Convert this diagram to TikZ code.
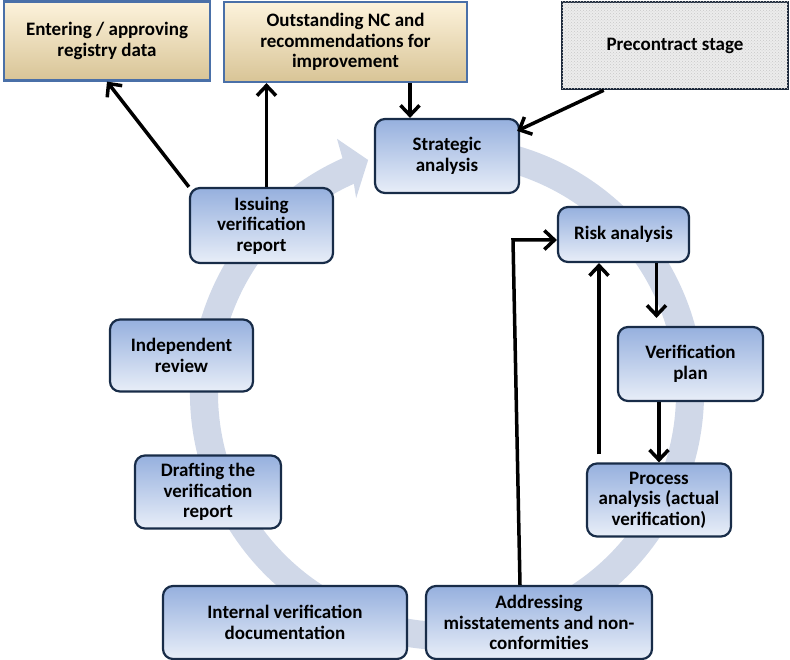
\documentclass[tikz,border=0pt]{standalone}
\usepackage{fontspec}
\setmainfont{Carlito}
\usetikzlibrary{arrows.meta,calc,patterns}

\definecolor{ringblue}{RGB}{208,216,232}
\definecolor{boxtop}{RGB}{150,176,222}
\definecolor{boxbot}{RGB}{232,238,248}
\definecolor{boxline}{RGB}{24,44,72}
\definecolor{tantop}{RGB}{253,243,220}
\definecolor{tanbot}{RGB}{216,196,150}
\definecolor{tanline}{RGB}{74,112,168}
\definecolor{stonefill}{RGB}{236,236,236}
\definecolor{stonedot}{RGB}{200,200,200}
\definecolor{stoneline}{RGB}{28,40,58}

\tikzset{
  boxtext/.style={align=center, inner sep=2pt,
    font=\bfseries\fontsize{19}{20.5}\selectfont},
  stepbox/.style={boxtext, draw=boxline, line width=2.2pt, rounded corners=10pt,
    top color=boxtop, bottom color=boxbot},
  outbox/.style={boxtext, draw=tanline, line width=2.2pt,
    top color=tantop, bottom color=tanbot},
  stonebox/.style={boxtext, draw=stoneline, line width=2.6pt, fill=stonefill,
    postaction={pattern=crosshatch dots, pattern color=stonedot}},
  flow/.style={line width=3.5pt, -{Straight Barb[length=10pt,width=19pt]}},
}

\begin{document}
\begin{tikzpicture}[x=1pt, y=1pt]
    \useasboundingbox (0,0) rectangle (790,-660);
    % circular flow behind the steps
    \begin{scope}[shift={(447,-393)}]
      \fill[ringblue] (114:257pt) arc[start angle=114, end angle=455, radius=257pt]
        -- (455:229pt) arc[start angle=455, end angle=114, radius=229pt]
        -- (115:215pt) -- (108.7:246pt) -- (113.4:277pt) -- cycle;
    \end{scope}
    % outputs and input
    \node[outbox, minimum width=206, minimum height=79] (entry) at (107,-41)
      {Entering / approving\\registry data};
    \node[outbox, minimum width=243, minimum height=80] (outnc) at (345.5,-42)
      {Outstanding NC and\\recommendations for\\improvement};
    \node[stonebox, minimum width=226, minimum height=87] (precon) at (675,-45.5)
      {Precontract stage};
    % steps of the cycle
    \node[stepbox, minimum width=144, minimum height=74] (strat) at (447,-156)
      {Strategic\\analysis};
    \node[stepbox, minimum width=131, minimum height=55] (risk) at (623.5,-234.5)
      {Risk analysis};
    \node[stepbox, minimum width=145, minimum height=74] (plan) at (690.5,-364)
      {Verification\\plan};
    \node[stepbox, minimum width=144, minimum height=73] (proc) at (659,-500)
      {Process\\analysis (actual\\verification)};
    \node[stepbox, minimum width=226, minimum height=73] (addr) at (539,-622.5)
      {Addressing\\misstatements and non-\\conformities};
    \node[stepbox, minimum width=244, minimum height=73] (intdoc) at (285,-622.5)
      {Internal verification\\documentation};
    \node[stepbox, minimum width=146, minimum height=73] (draft) at (208,-492)
      {Drafting the\\verification\\report};
    \node[stepbox, minimum width=143, minimum height=72] (indep) at (181.5,-355.5)
      {Independent\\review};
    \node[stepbox, minimum width=143, minimum height=75] (issue) at (261.5,-225.5)
      {Issuing\\verification\\report};
    % connectors
    \draw[flow] (issue.north west) -- (entry.south);
    \draw[flow] ([xshift=5pt]issue.north) -- ([xshift=5pt]issue.north |- outnc.south);
    \draw[flow] ([xshift=-37pt]strat.north |- outnc.south) -- ([xshift=-37pt]strat.north);
    \draw[flow] ([xshift=43pt]precon.south west) -- ([xshift=-3pt,yshift=-13pt]strat.north east);
    \draw[flow, shorten >=8pt] ([xshift=33pt]risk.south) -- ([xshift=33pt]risk.south |- plan.north);
    \draw[flow] (plan.south -| proc.north) -- (proc.north);
    \draw[flow, shorten <=8pt] ([xshift=-60pt]proc.north) -- ([xshift=-60pt]proc.north |- risk.south);
    \coordinate (turn) at (513,-240);
    \draw[flow] ([xshift=-19pt]addr.north) -- (turn) -- (turn -| risk.west);
\end{tikzpicture}
\end{document}
